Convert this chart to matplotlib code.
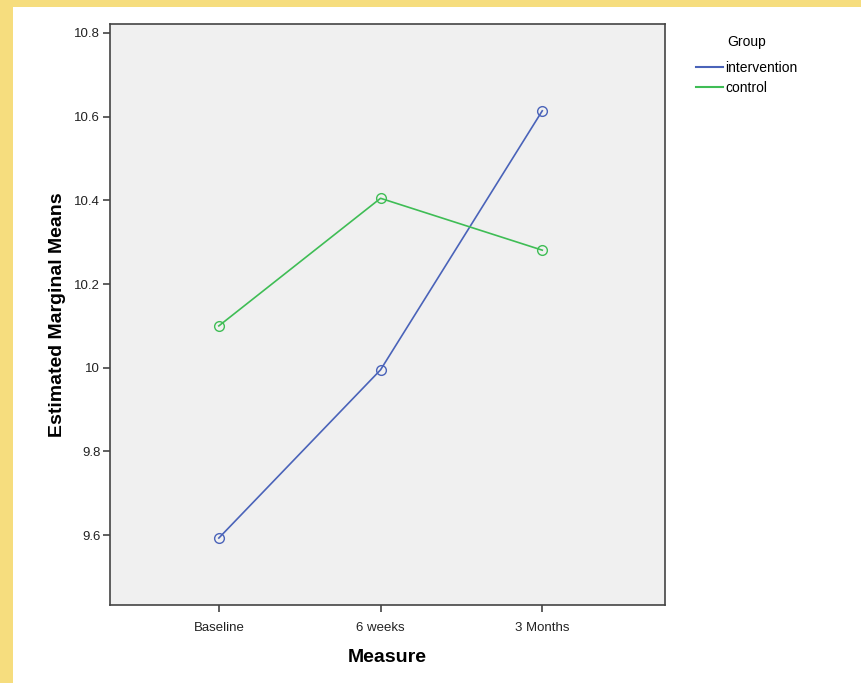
import matplotlib
matplotlib.use("Agg")
import matplotlib.pyplot as plt
from matplotlib.patches import Rectangle
from matplotlib.lines import Line2D

plt.rcParams['font.family'] = ['Liberation Sans', 'DejaVu Sans']

categories = ["Baseline", "6 weeks", "3 Months"]
intervention = [9.593, 9.995, 10.614]
control = [10.100, 10.405, 10.281]
yticks = [9.6, 9.8, 10.0, 10.2, 10.4, 10.6, 10.8]
ytick_labels = ["9.6", "9.8", "10", "10.2", "10.4", "10.6", "10.8"]

blue = "#4a63b9"
green = "#3fbd55"

fig = plt.figure(figsize=(8.61, 6.83), dpi=100)
fig.patch.set_facecolor("#f6dd7e")
fig.patches.append(Rectangle((13/861, 0), 1, (683-7)/683, transform=fig.transFigure,
                             facecolor="white", edgecolor="none", zorder=-10))

ax = fig.add_axes([110/861, 1-605/683, (665-110)/861, (605-24)/683])
ax.set_zorder(5)
ax.set_facecolor("#f0f0f0")
x = list(range(len(categories)))
ax.plot(x, intervention, color=blue, lw=1.2, marker="o", mfc="none", mec=blue,
        ms=7, mew=1.0, label="intervention")
ax.plot(x, control, color=green, lw=1.2, marker="o", mfc="none", mec=green,
        ms=7, mew=1.0, label="control")

ax.set_xlim(-0.673, 2.759)
ax.set_ylim(9.433, 10.8215)
ax.set_xticks(x)
ax.set_xticklabels(categories, fontsize=9.5)
ax.set_yticks(yticks)
ax.set_yticklabels(ytick_labels, fontsize=9.5)
for s in ax.spines.values():
    s.set_color("#444444")
    s.set_linewidth(1.2)
ax.tick_params(axis="both", direction="out", length=5, width=1.2, color="#444444",
               labelcolor="#222222", pad=2)
ax.tick_params(axis="x", pad=7)
ax.set_xlabel("Measure", fontsize=14, fontweight="bold", labelpad=11)
ax.set_ylabel("Estimated Marginal Means", fontsize=14, fontweight="bold", labelpad=6)

handles = [Line2D([], [], color=blue, lw=1.5), Line2D([], [], color=green, lw=1.5)]
leg = fig.legend(handles, ["intervention", "control"], loc="upper left",
                 bbox_to_anchor=(690/861, 1-29/683), frameon=False,
                 title="Group", fontsize=10, title_fontsize=10, handlelength=1.95,
                 handletextpad=0.2, labelspacing=0.45, borderaxespad=0)
leg._legend_box.sep = 9
leg.set_zorder(6)

fig.savefig("out.png", dpi=100, facecolor=fig.get_facecolor())
